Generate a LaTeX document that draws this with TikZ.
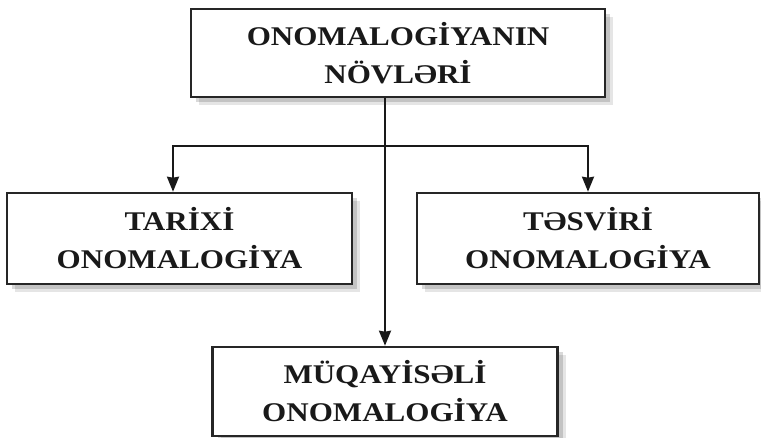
\documentclass[tikz,border=0pt]{standalone}
\usepackage{fontspec}
\setmainfont[FakeStretch=1.15]{Liberation Serif}
\usetikzlibrary{arrows.meta,shadows}
\begin{document}
\begin{tikzpicture}[x=1pt,y=-1pt,
  box/.style={draw=black!85,line width=2.6pt,fill=white,inner sep=0pt,align=center,
    font=\fontsize{27}{38}\selectfont\bfseries,text=black!90,
    drop shadow={shadow xshift=8pt,shadow yshift=-8pt,fill=black,opacity=0.10},
    drop shadow={shadow xshift=5pt,shadow yshift=-5pt,fill=black,opacity=0.15}},
  arr/.style={line width=2pt,draw=black!90,-{Stealth[length=15pt,width=12pt,inset=1pt]}},
  ln/.style={line width=2pt,draw=black!90}]
\useasboundingbox (0,0) rectangle (761,437);
\node[box,minimum width=414pt,minimum height=88pt] (top) at (398,53) {ONOMALOGİYANIN\\NÖVLƏRİ};
\node[box,minimum width=345pt,minimum height=91pt] (left) at (179.5,238.5) {TARİXİ\\ONOMALOGİYA};
\node[box,minimum width=342pt,minimum height=91pt] (right) at (588,238.5) {TƏSVİRİ\\ONOMALOGİYA};
\node[box,minimum width=345pt,minimum height=89pt] (bot) at (385,391.5) {MÜQAYİSƏLİ\\ONOMALOGİYA};
\coordinate (j) at (385,146);
\draw[arr] (top.south -| bot.north) -- (bot.north);
\draw[arr] (j) -| ([xshift=-6.5pt]left.north);
\draw[arr] (j) -| (right.north);
\end{tikzpicture}
\end{document}
